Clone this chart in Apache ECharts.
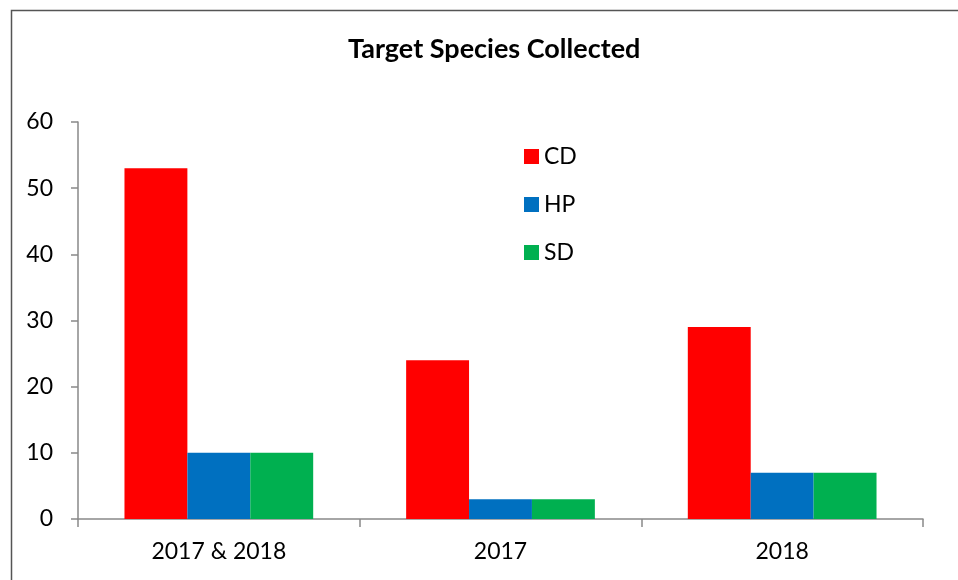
<!DOCTYPE html>
<html>
<head>
<meta charset="utf-8">
<script src="https://cdn.jsdelivr.net/npm/echarts@6/dist/echarts.min.js"></script>
<style>
	* { margin: 0; padding: 0; }
	#chart { width: 958px; height: 580px; }
</style>
</head>
<body>
<div id="chart"></div>
<script>
	var categories = ['2017 & 2018', '2017', '2018'];
	var cdData = [53, 24, 29];
	var hpData = [10, 3, 7];
	var sdData = [10, 3, 7];
	var yTicks = [0, 10, 20, 30, 40, 50, 60];

	var font = 'Lato, "Open Sans", sans-serif';
	var axisGrey = '#898989';

	var chart = echarts.init(document.getElementById('chart'));
	chart.setOption({
		animation: false,
		backgroundColor: '#fff',
		graphic: [{
			type: 'rect',
			left: 9, top: 8,
			shape: { width: 980, height: 620 },
			style: { fill: 'none', stroke: '#555', lineWidth: 1.5 },
			silent: true
		}],
		title: {
			text: 'Target Species Collected',
			left: 343,
			top: 31,
			textStyle: { fontFamily: font, fontSize: 27, fontWeight: 'bold', color: '#000' }
		},
		legend: {
			orient: 'vertical',
			left: 519,
			top: 140,
			itemWidth: 15,
			itemHeight: 15,
			itemGap: 25,
			icon: 'rect',
			textStyle: { fontFamily: font, fontSize: 23, color: '#000' },
			data: ['CD', 'HP', 'SD']
		},
		grid: { left: 78, right: 35, top: 122, bottom: 61, containLabel: false },
		xAxis: {
			type: 'category',
			data: categories,
			axisLine: { lineStyle: { color: axisGrey, width: 1.5 } },
			axisTick: { show: true, length: 8, lineStyle: { color: axisGrey, width: 1.5 } },
			axisLabel: { fontFamily: font, fontSize: 23, color: '#000', margin: 21 }
		},
		yAxis: {
			type: 'value',
			min: yTicks[0],
			max: yTicks[yTicks.length - 1],
			interval: 10,
			axisLine: { show: true, lineStyle: { color: axisGrey, width: 1.5 } },
			axisTick: { show: true, length: 7, lineStyle: { color: axisGrey, width: 1.5 } },
			splitLine: { show: false },
			axisLabel: { fontFamily: font, fontSize: 23, color: '#000', margin: 25 }
		},
		series: [
			{ name: 'CD', type: 'bar', data: cdData, barGap: '0%', barCategoryGap: '33%', itemStyle: { color: '#FF0000' } },
			{ name: 'HP', type: 'bar', data: hpData, barGap: '0%', barCategoryGap: '33%', itemStyle: { color: '#0070C0' } },
			{ name: 'SD', type: 'bar', data: sdData, barGap: '0%', barCategoryGap: '33%', itemStyle: { color: '#00B050' } }
		]
	});
</script>
</body>
</html>
